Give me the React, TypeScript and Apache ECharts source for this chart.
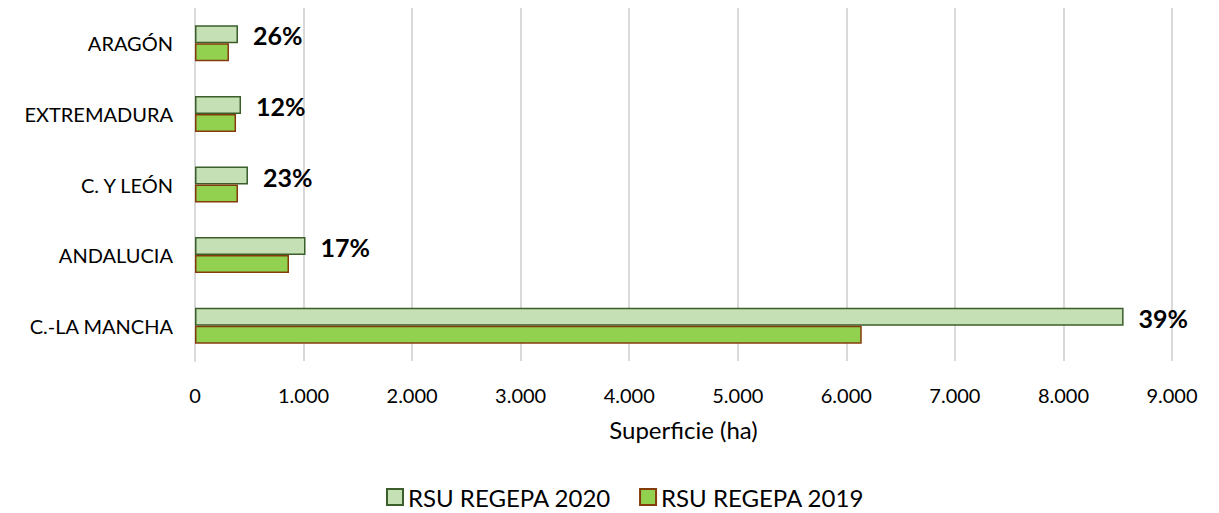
import React, { useEffect, useRef } from "react";
import * as echarts from "echarts";

const categories = ["ARAGÓN", "EXTREMADURA", "C. Y LEÓN", "ANDALUCIA", "C.-LA MANCHA"];
const values2020 = [396, 424, 488, 1018, 8554];
const values2019 = [313, 378, 396, 866, 6142];
const growthLabels = ["26%", "12%", "23%", "17%", "39%"];
const seriesNames = ["RSU REGEPA 2020", "RSU REGEPA 2019"];
const xTicks = { min: 0, max: 9000, interval: 1000 };

const FONT = "Lato, 'Open Sans', sans-serif";

export default function App() {
  const ref = useRef<HTMLDivElement>(null);
  useEffect(() => {
    if (!ref.current) return;
    const chart = echarts.init(ref.current, undefined, { renderer: "svg" });
    chart.setOption({
      animation: false,
      backgroundColor: "#ffffff",
      textStyle: { fontFamily: FONT },
      grid: { left: 187, width: 977, top: -1, height: 354, containLabel: false },
      legend: {
        data: seriesNames,
        top: 471,
        left: 373,
        itemWidth: 16,
        itemHeight: 16,
        itemGap: 28,
        icon: "rect",
        textStyle: { fontFamily: FONT, fontSize: 24, lineHeight: 26, color: "#000" },
      },
      xAxis: {
        type: "value",
        min: xTicks.min,
        max: xTicks.max,
        interval: xTicks.interval,
        name: "Superficie (ha)",
        nameLocation: "middle",
        nameGap: 56,
        nameTextStyle: { fontFamily: FONT, fontSize: 24, color: "#000" },
        axisLine: { show: false },
        axisTick: { show: false },
        axisLabel: {
          margin: 24,
          fontFamily: FONT,
          fontSize: 20,
          color: "#000",
          formatter: (v: number) => v.toLocaleString("de-DE"),
        },
        splitLine: { show: true, lineStyle: { color: "#d9d9d9", width: 2 } },
      },
      yAxis: {
        type: "category",
        data: categories,
        inverse: true,
        axisLine: { show: true, lineStyle: { color: "#d9d9d9", width: 2 } },
        axisTick: { show: false },
        axisLabel: { margin: 22, fontFamily: FONT, fontSize: 20, color: "#000" },
      },
      series: [
        {
          name: seriesNames[0],
          type: "bar",
          data: values2020,
          barWidth: 18,
          barGap: "0%",
          itemStyle: { color: "#c5e0b4", borderColor: "#3b5e2b", borderWidth: 1.5 },
          label: {
            show: true,
            position: "right",
            distance: 15,
            offset: [0, 1],
            fontFamily: FONT,
            fontSize: 25,
            fontWeight: "bold",
            color: "#000",
            formatter: (p: any) => growthLabels[p.dataIndex],
          },
        },
        {
          name: seriesNames[1],
          type: "bar",
          data: values2019,
          barWidth: 18,
          barGap: "0%",
          itemStyle: { color: "#92d050", borderColor: "#843c0c", borderWidth: 1.5 },
        },
      ],
    });
    return () => chart.dispose();
  }, []);
  return <div ref={ref} style={{ width: 1203, height: 505 }} />;
}
